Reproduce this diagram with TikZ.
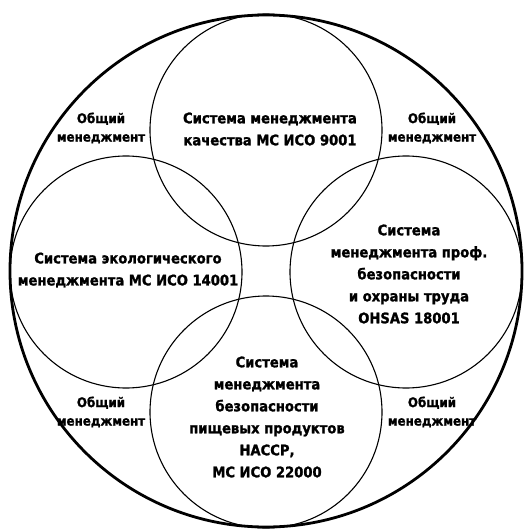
\documentclass[tikz,border=0pt]{standalone}
\usepackage{fontspec}
\usepackage{tikz}
\setmainfont{DejaVu Sans Condensed Bold}[FakeBold=1.3]
\usetikzlibrary{positioning}

\begin{document}
\begin{tikzpicture}[
    x=1pt, y=-1pt,
    whole/.style={draw, circle, line width=2.8pt, minimum size=512pt, inner sep=0pt},
    msys/.style={draw, circle, line width=1.1pt, minimum size=232pt, inner sep=0pt},
    msystext/.style={align=center, font=\fontsize{14.6}{22}\selectfont},
    common/.style={align=center, font=\fontsize{13.2}{18.5}\selectfont}
]
    \useasboundingbox (0,0) rectangle (526,532);

    % Outer circle
    \node[whole] (gm) at (266,271) {};

    % Management systems
    \node[msys] (qms) at (266,130) {};
    \node[msys] (ems) at (126,272) {};
    \node[msys] (ohs) at (406,272) {};
    \node[msys] (fss) at (266,412) {};

    \node[msystext] at (270,129) {Система менеджмента\\качества МС ИСО 9001};
    \node[msystext] at (128,270) {Система экологического\\менеджмента МС ИСО 14001};
    \node[msystext] at (409,274) {Система\\менеджмента проф.\\безопасности\\и охраны труда\\OHSAS 18001};
    \node[msystext] at (267,417) {Система\\менеджмента\\безопасности\\пищевых продуктов\\НАССР,\\МС ИСО 22000};

    % General management
    \node[common] (gm1) at (101,128) {Общий\\менеджмент};
    \node[common] (gm2) at (432,128) {Общий\\менеджмент};
    \node[common] (gm3) at (101,412) {Общий\\менеджмент};
    \node[common] (gm4) at (432,412) {Общий\\менеджмент};
\end{tikzpicture}
\end{document}
